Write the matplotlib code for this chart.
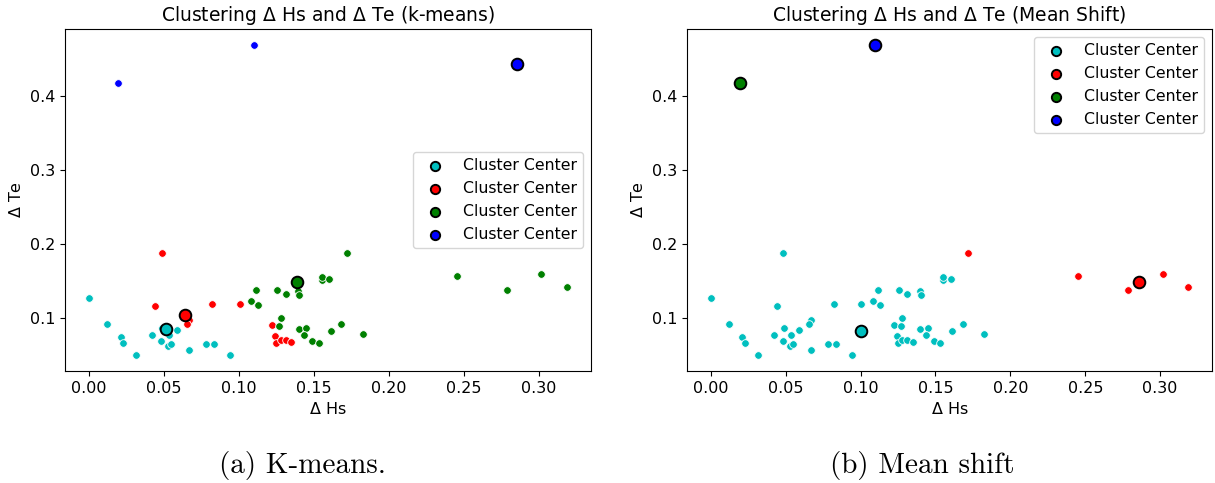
import matplotlib
matplotlib.use("Agg")
import matplotlib.pyplot as plt
import numpy as np

# Wave-parameter differences for each event
delta_hs = [0.0000, 0.0118, 0.0211, 0.0226, 0.0313, 0.0420, 0.0482, 0.0488,
            0.0537, 0.0530, 0.0550, 0.0590, 0.0668, 0.0780, 0.0834, 0.0940,
            0.0484, 0.0442, 0.0668, 0.0657, 0.0819, 0.1005, 0.1220, 0.1240,
            0.1250, 0.1278, 0.1312, 0.1350, 0.1114, 0.1083, 0.1127, 0.1256,
            0.1312, 0.1396, 0.1403, 0.1551, 0.1551, 0.1602, 0.1718, 0.1278,
            0.1270, 0.1398, 0.1450, 0.1436, 0.1487, 0.1531, 0.1613, 0.1682,
            0.1824, 0.2450, 0.2788, 0.3016, 0.3187, 0.1099, 0.0193]
delta_te = [0.127, 0.091, 0.074, 0.066, 0.050, 0.076, 0.069, 0.086,
            0.077, 0.062, 0.065, 0.083, 0.057, 0.065, 0.065, 0.049,
            0.187, 0.116, 0.097, 0.0915, 0.119, 0.119, 0.0896, 0.0757,
            0.0658, 0.070, 0.070, 0.0667, 0.138, 0.1225, 0.117, 0.138,
            0.1315, 0.136, 0.130, 0.1505, 0.1545, 0.152, 0.187, 0.0995,
            0.089, 0.0842, 0.0856, 0.0766, 0.068, 0.0658, 0.082, 0.0919,
            0.0784, 0.157, 0.1374, 0.159, 0.141, 0.469, 0.4176]

# Cluster assignments (0..3) from each method
kmeans_labels = [0] * 16 + [1] * 12 + [2] * 25 + [3, 3]
meanshift_labels = ([0] * 38 + [1] + [0] * 10 + [1, 1, 1, 1] + [3, 2])

kmeans_centers_hs = [0.0513, 0.0639, 0.1385, 0.2856]
kmeans_centers_te = [0.0847, 0.1040, 0.1486, 0.4430]
meanshift_centers_hs = [0.1000, 0.2860, 0.0193, 0.1099]
meanshift_centers_te = [0.0820, 0.1486, 0.4176, 0.4690]

cluster_colors = ['c', 'r', 'g', 'b']

titles = [r"Clustering $\Delta$ Hs and $\Delta$ Te (k-means)",
          r"Clustering $\Delta$ Hs and $\Delta$ Te (Mean Shift)"]
captions = ["(a) K-means.", "(b) Mean shift"]

plt.rcParams['mathtext.default'] = 'regular'

hs = np.array(delta_hs)
te = np.array(delta_te)

fig = plt.figure(figsize=(12.15, 4.83), dpi=100)
W, H = 1215, 483
ax_left = fig.add_axes([65 / W, 1 - 371 / H, 526 / W, 342 / H])
ax_right = fig.add_axes([687 / W, 1 - 371 / H, 525 / W, 342 / H])

setups = [
    (ax_left, kmeans_labels, kmeans_centers_hs, kmeans_centers_te, 'center right'),
    (ax_right, meanshift_labels, meanshift_centers_hs, meanshift_centers_te, 'upper right'),
]

for i, (ax, labels, cx, cy, loc) in enumerate(setups):
    labels = np.array(labels)
    for k, col in enumerate(cluster_colors):
        m = labels == k
        ax.scatter(hs[m], te[m], c=col, s=30, edgecolors='white', linewidths=0.6, zorder=2)
    for k, col in enumerate(cluster_colors):
        ax.scatter(cx[k], cy[k], c=col, s=70, edgecolors='k', linewidths=1.4,
                   zorder=3, label='Cluster Center')
    ax.set_xticks([0.0, 0.05, 0.10, 0.15, 0.20, 0.25, 0.30])
    ax.set_xticklabels(['0.00', '0.05', '0.10', '0.15', '0.20', '0.25', '0.30'])
    ax.set_yticks([0.1, 0.2, 0.3, 0.4])
    ax.tick_params(labelsize=11.5)
    ax.set_xlabel(r"$\Delta$ Hs", fontsize=11.5)
    ax.set_ylabel(r"$\Delta$ Te", fontsize=11.5)
    ax.set_title(titles[i], fontsize=13.5)
    ax.legend(loc=loc, fontsize=11.3, markerscale=0.8)

fig.text(302 / W, 1 - 465 / H, captions[0], family='cmr10', fontsize=21,
         ha='center', va='center')
fig.text(922 / W, 1 - 465 / H, captions[1], family='cmr10', fontsize=21,
         ha='center', va='center')

fig.savefig('out.png', dpi=100)
